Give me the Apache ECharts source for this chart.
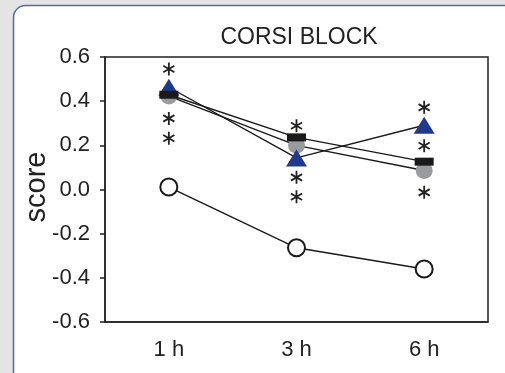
<!DOCTYPE html>
<html><head><meta charset="utf-8">
<script src="https://cdn.jsdelivr.net/npm/echarts@6/dist/echarts.min.js"></script>
<style>html,body{margin:0;padding:0;background:#e4e4e4;}#c{width:505px;height:373px;}</style>
</head><body><div id="c"></div>
<script>
const categories = ['1 h', '3 h', '6 h'];
const yTicks = { min: -0.6, max: 0.6, interval: 0.2 };
const openCircle = [0.011, -0.264, -0.36];
const blackSquare = [0.429, 0.236, 0.126];
const grayCircle = [0.423, 0.200, 0.086];
const blueTriangle = [0.463, 0.143, 0.291];
const asterisks1h = [0.546, 0.322, 0.232];
const asterisks3h = [0.289, 0.055, -0.033];
const asterisks6h = [0.372, 0.198, -0.013];
const titleText = 'CORSI BLOCK';
const yName = 'score';

// asterisk path (three filled bars)
function bar(angleDeg) {
  const a = angleDeg * Math.PI / 180, L = 10, w = 1.4;
  const dx = Math.sin(a) * L, dy = -Math.cos(a) * L;
  const px = Math.cos(a) * w, py = Math.sin(a) * w;
  const cx = 10, cy = 10;
  const p = [[cx + dx + px, cy + dy + py], [cx + dx - px, cy + dy - py], [cx - dx - px, cy - dy - py], [cx - dx + px, cy - dy + py]];
  return 'M' + p.map(q => q[0].toFixed(2) + ',' + q[1].toFixed(2)).join('L') + 'Z';
}
const starPath = 'path://' + bar(0) + bar(60) + bar(-60);

const astData = [];
[asterisks1h, asterisks3h, asterisks6h].forEach((arr, i) => arr.forEach(v => astData.push([categories[i], v])));

const lineStyle = { color: '#1a1a1a', width: 1.4 };
function lineSeries(d) {
  return { type: 'line', data: d, showSymbol: false, symbol: 'none', lineStyle, z: 2, silent: true, animation: false };
}
function markerSeries(d, extra) {
  return Object.assign({ type: 'scatter', data: d, animation: false, silent: true }, extra);
}

const chart = echarts.init(document.getElementById('c'), null, { renderer: 'canvas' });
chart.setOption({
  animation: false,
  backgroundColor: 'transparent',
  title: {
    text: titleText, left: 294, top: 21, textAlign: 'center',
    textStyle: { fontFamily: 'Liberation Sans', fontSize: 23, fontWeight: 'normal', color: '#222' }
  },
  graphic: [
    { type: 'rect', z: -100, shape: { x: 13.5, y: 5.5, width: 520, height: 400, r: 12 },
      style: { fill: '#ffffff', stroke: '#5668ad', lineWidth: 1.5 } },
    { type: 'text', z: 100, x: 37, y: 187, rotation: Math.PI / 2,
      style: { text: yName, fontFamily: 'Liberation Sans', fontSize: 29, fill: '#222', textAlign: 'center', textVerticalAlign: 'middle' } }
  ],
  grid: { left: 105, right: 17, top: 57, bottom: 51, show: true, borderColor: '#222', borderWidth: 1.5, backgroundColor: 'transparent' },
  xAxis: {
    type: 'category', data: categories, boundaryGap: true,
    axisLine: { onZero: false, lineStyle: { color: '#222', width: 1.5 } },
    axisTick: { alignWithLabel: true, length: 5, lineStyle: { color: '#222', width: 1.5 } },
    axisLabel: { margin: 17, fontFamily: 'Liberation Sans', fontSize: 22, color: '#222' },
    splitLine: { show: false }
  },
  yAxis: {
    type: 'value', min: yTicks.min, max: yTicks.max, interval: yTicks.interval,
    axisLine: { show: true, lineStyle: { color: '#222', width: 1.5 } },
    axisTick: { show: true, length: 5, lineStyle: { color: '#222', width: 1.5 } },
    axisLabel: { margin: 15, fontFamily: 'Liberation Sans', fontSize: 22, color: '#222', formatter: v => v.toFixed(1) },
    splitLine: { show: false }
  },
  series: [
    lineSeries(openCircle), lineSeries(blackSquare), lineSeries(grayCircle), lineSeries(blueTriangle),
    markerSeries(openCircle, { symbol: 'circle', symbolSize: 17, itemStyle: { color: '#fff', borderColor: '#1a1a1a', borderWidth: 2, opacity: 1 }, z: 3 }),
    markerSeries(grayCircle, { symbol: 'circle', symbolSize: 17, itemStyle: { color: '#9a9b9f', opacity: 1 }, z: 4 }),
    markerSeries(blueTriangle, { symbol: 'triangle', symbolSize: [21, 17], itemStyle: { color: '#1d3a8f', opacity: 1 }, z: 5 }),
    markerSeries(blackSquare, { symbol: 'rect', symbolSize: [19, 8], itemStyle: { color: '#1a1a1a', opacity: 1 }, z: 6 }),
    markerSeries(astData, { symbol: starPath, symbolSize: [12, 13], itemStyle: { color: '#222', opacity: 1 }, z: 7 })
  ]
});
</script></body></html>
